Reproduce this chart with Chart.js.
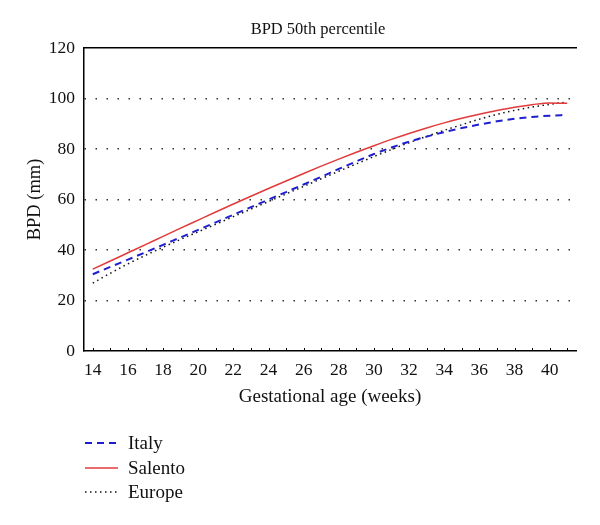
<!DOCTYPE html>
<html>
<head>
<meta charset="utf-8">
<script src="https://cdn.jsdelivr.net/npm/chart.js@4.4.1/dist/chart.umd.min.js"></script>
<style>
  html, body { margin: 0; padding: 0; background: #fff; }
  #wrap { position: relative; width: 600px; height: 525px; font-family: "Liberation Serif", serif; }
  #c { position: absolute; left: 0; top: 0; }
  #title { position: absolute; top: 19px; left: 0; width: 636px; text-align: center; font-size: 16.5px; color: #111; }
  #legend { position: absolute; left: 84px; top: 431px; font-size: 19px; color: #111; }
  .row { height: 24.5px; display: flex; align-items: center; }
  .row svg { margin-right: 10px; }
</style>
</head>
<body>
<div id="wrap">
  <canvas id="c" width="600" height="525"></canvas>
  <div id="title"></div>
  <div id="legend"></div>
</div>
<script>
const chartTitle = "BPD 50th percentile";
const xTitle = "Gestational age (weeks)";
const yTitle = "BPD (mm)";
const weeks = [14,15,16,17,18,19,20,21,22,23,24,25,26,27,28,29,30,31,32,33,34,35,36,37,38,39,40,41];
const italy   = [30.4,33.3,36.2,39.1,42.05,45.0,47.95,50.95,53.95,56.95,59.95,62.95,65.95,69.0,72.1,75.1,78.0,80.6,82.9,84.9,86.7,88.3,89.7,90.95,91.95,92.7,93.2,93.5];
const salento = [32.4,35.65,38.9,42.15,45.4,48.65,51.85,55.05,58.2,61.3,64.35,67.35,70.3,73.2,76.0,78.7,81.3,83.8,86.15,88.35,90.35,92.15,93.75,95.25,96.55,97.55,98.25,98.1];
const europe  = [26.9,30.8,34.5,37.9,41.1,44.2,47.2,50.2,53.2,56.2,59.2,62.2,65.2,68.2,71.2,74.1,77.0,79.8,82.5,85.0,87.4,89.6,91.8,93.7,95.3,96.6,97.7,98.6];
const xTicks = [14,16,18,20,22,24,26,28,30,32,34,36,38,40];
const yTicks = [0,20,40,60,80,100,120];
const seriesNames = ["Italy", "Salento", "Europe"];

const FONT = "'Liberation Serif', serif";
const styles = [
  { color: '#1f1fd0', width: 2, dash: [7, 5] },
  { color: '#e23a3a', width: 1.5, dash: [] },
  { color: '#111111', width: 1.5, dash: [1.5, 3.5] }
];
const values = [italy, salento, europe];

document.getElementById('title').textContent = chartTitle;

const innerTicks = {
  id: 'innerTicks',
  afterDraw(chart) {
    const x = chart.scales.x, ctx = chart.ctx, b = chart.chartArea.bottom;
    ctx.save();
    ctx.strokeStyle = '#000';
    ctx.lineWidth = 1;
    for (let w = weeks[0]; w <= weeks[weeks.length - 1]; w++) {
      const px = Math.round(x.getPixelForValue(w)) + 0.5;
      ctx.beginPath(); ctx.moveTo(px, b); ctx.lineTo(px, b - 3); ctx.stroke();
    }
    ctx.restore();
  }
};

new Chart(document.getElementById('c'), {
  type: 'line',
  data: {
    datasets: seriesNames.map((n, i) => ({
      label: n,
      data: weeks.map((w, j) => ({ x: w, y: values[i][j] })),
      borderColor: styles[i].color,
      borderWidth: styles[i].width,
      borderDash: styles[i].dash,
      pointRadius: 0,
      tension: 0.4,
      cubicInterpolationMode: 'monotone',
      fill: false
    }))
  },
  options: {
    responsive: false,
    animation: false,
    layout: { padding: { left: 24, top: 48, right: 24, bottom: 117 } },
    plugins: { legend: { display: false }, title: { display: false }, tooltip: { enabled: false } },
    scales: {
      x: {
        type: 'linear', min: 13.5, max: 41.5,
        afterBuildTicks: s => { s.ticks = xTicks.map(v => ({ value: v })); },
        afterFit: s => { s.height = 57; },
        grid: { display: false, drawTicks: false },
        border: { display: true, color: '#000', width: 1.5 },
        ticks: { padding: 9, color: '#111', font: { family: FONT, size: 17.5 }, maxRotation: 0 },
        title: { display: true, text: xTitle, color: '#111', font: { family: FONT, size: 19 }, padding: 0 }
      },
      xTop: {
        type: 'linear', position: 'top', min: 13.5, max: 41.5,
        afterFit: s => { s.height = 0; },
        grid: { display: false, drawTicks: false },
        border: { display: true, color: '#000', width: 1.5 },
        ticks: { display: false }
      },
      y: {
        min: 0, max: 120,
        afterBuildTicks: s => { s.ticks = yTicks.map(v => ({ value: v })); },
        afterFit: s => { s.width = 60; },
        grid: {
          drawTicks: false,
          color: c => (c.tick && (c.tick.value === 0 || c.tick.value === 120)) ? 'rgba(0,0,0,0)' : '#333',
          lineWidth: 1.5
        },
        border: { display: true, color: '#000', width: 1.5, dash: [1.5, 9.5] },
        ticks: { padding: 9, color: '#111', font: { family: FONT, size: 17.5 } },
        title: { display: true, text: yTitle, color: '#111', font: { family: FONT, size: 18.5 }, padding: 0 }
      }
    }
  },
  plugins: [innerTicks]
});

// legend built from the same series definitions
const leg = document.getElementById('legend');
seriesNames.forEach((n, i) => {
  const row = document.createElement('div');
  row.className = 'row';
  const ns = 'http://www.w3.org/2000/svg';
  const svg = document.createElementNS(ns, 'svg');
  svg.setAttribute('width', '34'); svg.setAttribute('height', '6');
  const ln = document.createElementNS(ns, 'line');
  ln.setAttribute('x1', '1'); ln.setAttribute('x2', '34'); ln.setAttribute('y1', '3'); ln.setAttribute('y2', '3');
  ln.setAttribute('stroke', styles[i].color);
  ln.setAttribute('stroke-width', styles[i].width);
  if (styles[i].dash.length) ln.setAttribute('stroke-dasharray', styles[i].dash.join(' '));
  svg.appendChild(ln);
  row.appendChild(svg);
  const t = document.createElement('span');
  t.textContent = n;
  row.appendChild(t);
  leg.appendChild(row);
});
</script>
</body>
</html>
